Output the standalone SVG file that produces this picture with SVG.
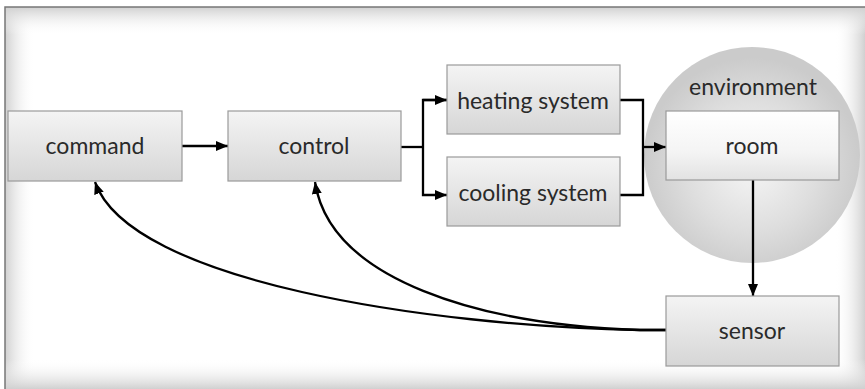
<svg xmlns="http://www.w3.org/2000/svg" width="865" height="389" viewBox="0 0 865 389">
<defs>
<linearGradient id="boxg" x1="0" y1="0" x2="0" y2="1"><stop offset="0" stop-color="#f4f4f4"/><stop offset="1" stop-color="#d6d6d6"/></linearGradient>
<linearGradient id="roomg" x1="0" y1="0" x2="0" y2="1"><stop offset="0" stop-color="#ffffff"/><stop offset="0.6" stop-color="#f4f4f4"/><stop offset="1" stop-color="#e2e2e2"/></linearGradient>
<radialGradient id="envg" cx="0.5" cy="0.55" r="0.5"><stop offset="0" stop-color="#f6f6f6"/><stop offset="0.6" stop-color="#dedede"/><stop offset="1" stop-color="#cbcbcb"/></radialGradient>
<linearGradient id="shL" x1="0" y1="0" x2="1" y2="0"><stop offset="0" stop-color="#d0d0d0"/><stop offset="1" stop-color="#ffffff" stop-opacity="0"/></linearGradient>
<linearGradient id="shR" x1="1" y1="0" x2="0" y2="0"><stop offset="0" stop-color="#d0d0d0"/><stop offset="1" stop-color="#ffffff" stop-opacity="0"/></linearGradient>
<linearGradient id="shT" x1="0" y1="0" x2="0" y2="1"><stop offset="0" stop-color="#d0d0d0"/><stop offset="1" stop-color="#ffffff" stop-opacity="0"/></linearGradient>
<linearGradient id="shB" x1="0" y1="1" x2="0" y2="0"><stop offset="0" stop-color="#d0d0d0"/><stop offset="1" stop-color="#ffffff" stop-opacity="0"/></linearGradient>
<marker id="ah" viewBox="0 0 12 10" refX="12" refY="5" markerWidth="12" markerHeight="10" markerUnits="userSpaceOnUse" orient="auto"><path d="M0,0 L12,5 L0,10 Z" fill="#000"/></marker>
<style>
.box{fill:url(#boxg);stroke:#9a9a9a;stroke-width:1.2}
.lbl{font-family:"Lato","Liberation Sans",sans-serif;font-size:23px;fill:#2a2a2a;text-anchor:middle}
.ln{fill:none;stroke:#000;stroke-width:2.3}
</style>
</defs>
<g id="frame">
<rect x="0" y="0" width="865" height="389" fill="#ffffff"/>
<rect x="5" y="7" width="860" height="382" fill="#ffffff"/>
<rect x="5" y="7" width="30" height="382" fill="url(#shL)"/>
<rect x="835" y="7" width="30" height="382" fill="url(#shR)"/>
<rect x="5" y="7" width="860" height="28" fill="url(#shT)"/>
<rect x="5" y="359" width="860" height="30" fill="url(#shB)"/>
<path d="M5,389 L5,7 L865,7" fill="none" stroke="#777" stroke-width="1.5"/>
</g>
<g id="environment">
<circle cx="752" cy="155" r="108" fill="url(#envg)"/>
<text class="lbl" x="753" y="95">environment</text>
</g>
<g id="connectors">
<line class="ln" x1="182" y1="146" x2="228" y2="146" marker-end="url(#ah)"/>
<polyline class="ln" points="401,147 423,147"/>
<polyline class="ln" points="447,100 423,100 423,195 447,195" marker-end="url(#ah)"/>
<line class="ln" x1="423" y1="100" x2="447" y2="100" marker-end="url(#ah)"/>
<polyline class="ln" points="620,100 643,100 643,195 620,195"/>
<line class="ln" x1="643" y1="147" x2="666" y2="147" marker-end="url(#ah)"/>
<line class="ln" x1="753" y1="180" x2="753" y2="296" marker-end="url(#ah)"/>
<path class="ln" d="M666,330 L640,330 C430,326 130,282 95,182" marker-end="url(#ah)"/>
<path class="ln" d="M666,330 L640,330 C480,325 330,280 315,182" marker-end="url(#ah)"/>
</g>
<g id="command"><rect class="box" x="8" y="111" width="174" height="70"/><text class="lbl" x="95" y="154">command</text></g>
<g id="control"><rect class="box" x="228" y="111" width="173" height="70"/><text class="lbl" x="314" y="154">control</text></g>
<g id="heating"><rect class="box" x="447" y="65" width="173" height="69"/><text class="lbl" x="533" y="109">heating system</text></g>
<g id="cooling"><rect class="box" x="447" y="157" width="173" height="69"/><text class="lbl" x="533" y="201">cooling system</text></g>
<g id="room"><rect x="666" y="111" width="173" height="69" fill="url(#roomg)" stroke="#9a9a9a" stroke-width="1.2"/><text class="lbl" x="752" y="154">room</text></g>
<g id="sensor"><rect class="box" x="666" y="296" width="173" height="70"/><text class="lbl" x="752" y="339">sensor</text></g>
</svg>
